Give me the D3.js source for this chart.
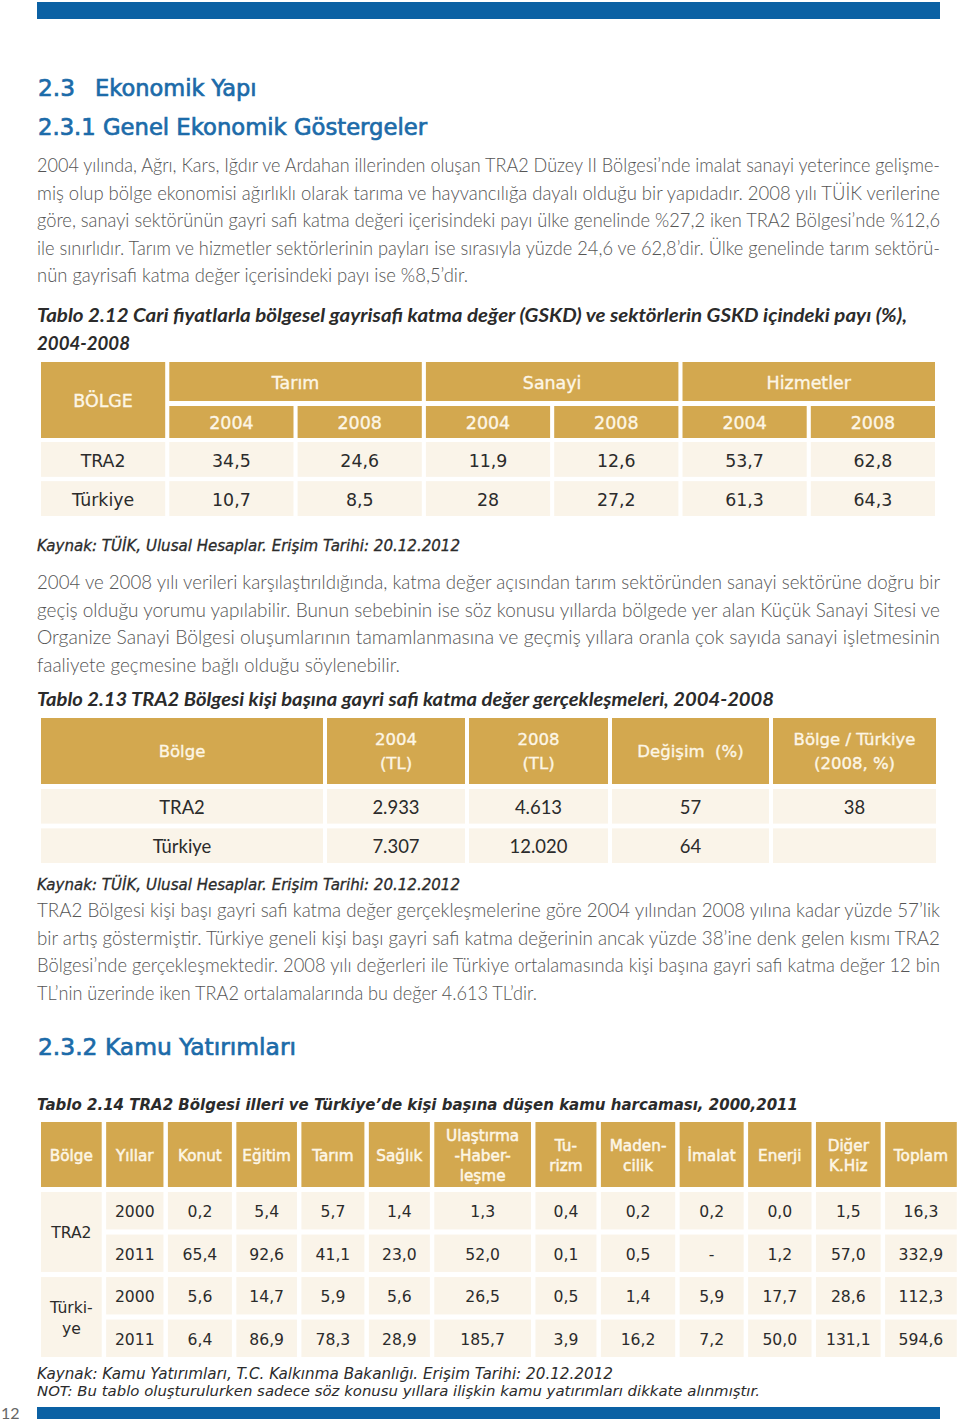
<!DOCTYPE html>
<html><head><meta charset="utf-8">
<script src="https://cdn.jsdelivr.net/npm/d3@7"></script>
<style>html,body{margin:0;padding:0;background:#fff;} svg{display:block;} text{white-space:pre;}</style>
</head><body><svg id="page" width="960" height="1423"></svg>
<script>
// ---------------- DATA ----------------
const headings = ["2.3", "Ekonomik Yapı", "2.3.1 Genel Ekonomik Göstergeler", "2.3.2 Kamu Yatırımları"];
const para1 = [
  "2004 yılında, Ağrı, Kars, Iğdır ve Ardahan illerinden oluşan TRA2 Düzey II Bölgesi’nde imalat sanayi yeterince gelişme-",
  "miş olup bölge ekonomisi ağırlıklı olarak tarıma ve hayvancılığa dayalı olduğu bir yapıdadır. 2008 yılı TÜİK verilerine",
  "göre, sanayi sektörünün gayri safi katma değeri içerisindeki payı ülke genelinde %27,2 iken TRA2 Bölgesi’nde %12,6",
  "ile sınırlıdır. Tarım ve hizmetler sektörlerinin payları ise sırasıyla yüzde 24,6 ve 62,8’dir. Ülke genelinde tarım sektörü-",
  "nün gayrisafi katma değer içerisindeki payı ise %8,5’dir."
];
const para2 = [
  "2004 ve 2008 yılı verileri karşılaştırıldığında, katma değer açısından tarım sektöründen sanayi sektörüne doğru bir",
  "geçiş olduğu yorumu yapılabilir. Bunun sebebinin ise söz konusu yıllarda bölgede yer alan Küçük Sanayi Sitesi ve",
  "Organize Sanayi Bölgesi oluşumlarının tamamlanmasına ve geçmiş yıllara oranla çok sayıda sanayi işletmesinin",
  "faaliyete geçmesine bağlı olduğu söylenebilir."
];
const para3 = [
  "TRA2 Bölgesi kişi başı gayri safi katma değer gerçekleşmelerine göre 2004 yılından 2008 yılına kadar yüzde 57’lik",
  "bir artış göstermiştir. Türkiye geneli kişi başı gayri safi katma değerinin ancak yüzde 38’ine denk gelen kısmı TRA2",
  "Bölgesi’nde gerçekleşmektedir. 2008 yılı değerleri ile Türkiye ortalamasında kişi başına gayri safi katma değer 12 bin",
  "TL’nin üzerinde iken TRA2 ortalamalarında bu değer 4.613 TL’dir."
];
const caption12 = ["Tablo 2.12 Cari fiyatlarla bölgesel gayrisafi katma değer (GSKD) ve sektörlerin GSKD içindeki payı (%),", "2004-2008"];
const t12RegionHeader = "BÖLGE";
const t12Sectors = ["Tarım", "Sanayi", "Hizmetler"];
const t12Years = ["2004", "2008"];
const t12Regions = ["TRA2", "Türkiye"];
const t12TRA2 = [34.5, 24.6, 11.9, 12.6, 53.7, 62.8];
const t12Turkiye = [10.7, 8.5, 28, 27.2, 61.3, 64.3];
const source12 = "Kaynak: TÜİK, Ulusal Hesaplar. Erişim Tarihi: 20.12.2012";

const caption13 = "Tablo 2.13 TRA2 Bölgesi kişi başına gayri safi katma değer gerçekleşmeleri, 2004-2008";
const t13Columns = [["Bölge"], ["2004", "(TL)"], ["2008", "(TL)"], ["Değişim  (%)"], ["Bölge / Türkiye", "(2008, %)"]];
const t13Regions = ["TRA2", "Türkiye"];
const t13TRA2 = [2933, 4613, 57, 38];
const t13Turkiye = [7307, 12020, 64, null];
const source13 = "Kaynak: TÜİK, Ulusal Hesaplar. Erişim Tarihi: 20.12.2012";

const caption14 = "Tablo 2.14 TRA2 Bölgesi illeri ve Türkiye’de kişi başına düşen kamu harcaması, 2000,2011";
const t14Columns = [["Bölge"], ["Yıllar"], ["Konut"], ["Eğitim"], ["Tarım"], ["Sağlık"], ["Ulaştırma", "-Haber-", "leşme"], ["Tu-", "rizm"], ["Maden-", "cilik"], ["İmalat"], ["Enerji"], ["Diğer", "K.Hiz"], ["Toplam"]];
const t14Regions = [["TRA2"], ["Türki-", "ye"]];
const t14Years = ["2000", "2011"];
const t14TRA2_2000 = [0.2, 5.4, 5.7, 1.4, 1.3, 0.4, 0.2, 0.2, 0.0, 1.5, 16.3];
const t14TRA2_2011 = [65.4, 92.6, 41.1, 23.0, 52.0, 0.1, 0.5, null, 1.2, 57.0, 332.9];
const t14Turkiye_2000 = [5.6, 14.7, 5.9, 5.6, 26.5, 0.5, 1.4, 5.9, 17.7, 28.6, 112.3];
const t14Turkiye_2011 = [6.4, 86.9, 78.3, 28.9, 185.7, 3.9, 16.2, 7.2, 50.0, 131.1, 594.6];
const source14 = [
  "Kaynak: Kamu Yatırımları, T.C. Kalkınma Bakanlığı. Erişim Tarihi: 20.12.2012",
  "NOT: Bu tablo oluşturulurken sadece söz konusu yıllara ilişkin kamu yatırımları dikkate alınmıştır."
];
const pageNumber = "12";

// ---------------- STYLE ----------------
const BLUE_BAR = "#0b61a4", BLUE_HEAD = "#1c6ba9", GOLD = "#d3a84f", CREAM = "#faf4e9",
      HEAD_TXT = "#fdf6e6", BODY = "#505050", DARK = "#2b2b2b";
const F_LATO = "Lato, 'Open Sans', sans-serif";
const F_TAB = "'DejaVu Sans', Verdana, sans-serif";

const svg = d3.select("#page");
const loc = d3.formatLocale({decimal: ",", thousands: ".", grouping: [3], currency: ["", ""]});
const f12 = v => String(v).replace(".", ",");
const f13 = v => v == null ? "" : loc.format(",d")(v);
const f14 = v => v == null ? "-" : loc.format(".1f")(v);

function T(sel, s, x, y, o = {}) {
  let parent = sel, tx = x, ty = y;
  if (o.vs) { parent = sel.append("g").attr("transform", `translate(${x},${y}) scale(1,${o.vs})`); tx = 0; ty = 0; }
  const size = o.s || 18;
  const t = parent.append("text").attr("x", tx).attr("y", ty).text(s)
    .attr("font-family", o.f || F_LATO).attr("font-size", size)
    .attr("fill", o.c || BODY).attr("text-anchor", o.a || "start");
  if (o.wt) t.attr("font-weight", o.wt);
  if (o.it) t.attr("font-style", "italic");
  if (o.st) t.attr("stroke", o.c || BODY).attr("stroke-width", o.st);
  const L = t.node().getComputedTextLength();
  const target = o.w ? o.w : (o.sx ? L * o.sx : null);
  if (target) {
    if (L > target) t.attr("font-size", size * target / L * 0.998);
    const L2 = t.node().getComputedTextLength();
    if (o.w && Math.abs(L2 - target) > 0.5) t.attr("textLength", target).attr("lengthAdjust", "spacingAndGlyphs");
  }
  return t;
}
// common font size so that every line's natural width fits its target width
function fitSize(items, o, base) {
  const tmp = svg.append("text").attr("font-family", o.f).attr("font-size", base)
    .attr("font-weight", o.wt || 400).attr("font-style", o.it ? "italic" : "normal");
  let s = base;
  items.forEach(([l, w]) => { tmp.text(l); const L = tmp.node().getComputedTextLength(); s = Math.min(s, base * w / L); });
  tmp.remove();
  return s * 0.995;
}
function rect(sel, x, y, w, h, fill) {
  return sel.append("rect").attr("x", x).attr("y", y).attr("width", w).attr("height", h).attr("fill", fill);
}
function multiline(sel, lines, cx, cy, lh, o) {
  const n = lines.length;
  lines.forEach((l, i) => T(sel, l, cx, cy + (i - (n - 1) / 2) * lh + 0.36 * o.s, o));
}

// ---------------- PAGE FRAME ----------------
rect(svg, 37, 2, 903, 17, BLUE_BAR);
rect(svg, 37, 1407, 903, 12, BLUE_BAR);
T(svg, pageNumber, 1, 1419, {f: F_LATO, s: 16, c: "#666"});

// ---------------- HEADINGS ----------------
const hO = {f: F_TAB, s: 24, c: BLUE_HEAD, st: 0.7};
T(svg, headings[0], 38, 96, Object.assign({w: 37}, hO));
T(svg, headings[1], 95, 96, Object.assign({w: 162}, hO));
T(svg, headings[2], 38, 135, Object.assign({w: 389}, hO));
T(svg, headings[3], 38, 1055, Object.assign({w: 258}, hO));

// ---------------- PARAGRAPHS ----------------
const paras = [[para1, 172, 431], [para2, 589, 363], [para3, 917, 500]];
const bodyO = {f: F_LATO, wt: 300, c: "#555"};
const bodyItems = [];
paras.forEach(([lines, y0, lastW]) => lines.forEach((l, i) => bodyItems.push([l, i === lines.length - 1 ? lastW : 903])));
const bodySize = fitSize(bodyItems, bodyO, 19);
const bodyVs = Math.min(1.2, 19 / bodySize);
paras.forEach(([lines, y0, lastW]) => lines.forEach((l, i) =>
  T(svg, l, 37, y0 + i * 27.6, Object.assign({s: bodySize, vs: bodyVs, w: i === lines.length - 1 ? lastW : 903}, bodyO))));

// ---------------- CAPTIONS / SOURCES ----------------
const capO = {f: F_LATO, wt: 700, it: true, c: DARK};
const capItems = [[caption12[0], 870], [caption12[1], 93], [caption13, 737]];
const capSize = fitSize(capItems, capO, 19);
const capVs = Math.min(1.2, 19 / capSize);
T(svg, caption12[0], 37, 322, Object.assign({s: capSize, vs: capVs, w: 870}, capO));
T(svg, caption12[1], 37, 350, Object.assign({s: capSize, vs: capVs, w: 93}, capO));
T(svg, caption13, 37, 706, Object.assign({s: capSize, vs: capVs, w: 737}, capO));
T(svg, caption14, 37, 1110, {f: F_TAB, s: 18, wt: 700, it: true, c: DARK, w: 761});
const srcO = {f: F_TAB, s: 15, it: true, c: DARK, st: 0.3};
T(svg, source12, 37, 551, Object.assign({w: 423}, srcO));
T(svg, source13, 37, 890, Object.assign({w: 423}, srcO));
T(svg, source14[0], 37, 1379, {f: F_TAB, s: 15, it: true, c: DARK, w: 576});
T(svg, source14[1], 37, 1396, {f: F_TAB, s: 15, it: true, c: DARK, w: 723});

// ---------------- TABLE 2.12 ----------------
{
  const g = svg.append("g");
  const x = d3.scaleBand().domain(d3.range(7)).range([41, 935]).paddingInner(0.032);
  const bw = x.bandwidth();
  const hO2 = {f: F_TAB, s: 19, c: HEAD_TXT, a: "middle", sx: 0.92, st: 0.35};
  rect(g, x(0), 362, bw, 76, GOLD);
  T(g, t12RegionHeader, x(0) + bw / 2, 400 + 0.36 * 19, hO2);
  const sectors = t12Sectors.map((s, i) => ({s, x0: x(1 + 2 * i), x1: x(2 + 2 * i) + bw}));
  g.selectAll("rect.sec").data(sectors).join("rect").attr("class", "sec")
    .attr("x", d => d.x0).attr("y", 362).attr("width", d => d.x1 - d.x0).attr("height", 39).attr("fill", GOLD);
  sectors.forEach(d => T(g, d.s, (d.x0 + d.x1) / 2, 382 + 0.36 * 19, hO2));
  const yrs = d3.range(6).map(i => ({i, y: t12Years[i % 2]}));
  g.selectAll("rect.yr").data(yrs).join("rect").attr("class", "yr")
    .attr("x", d => x(d.i + 1)).attr("y", 406).attr("width", bw).attr("height", 32).attr("fill", GOLD);
  yrs.forEach(d => T(g, d.y, x(d.i + 1) + bw / 2, 422 + 0.36 * 19, hO2));
  const rows = t12Regions.map((r, i) => ({r, vals: i ? t12Turkiye : t12TRA2}));
  const y = d3.scaleBand().domain(t12Regions).range([442, 516]).paddingInner(0.11);
  const dO = {f: F_TAB, s: 20, c: DARK, a: "middle", sx: 0.87};
  rows.forEach(row => {
    const cells = [row.r].concat(row.vals.map(f12));
    g.selectAll(null).data(cells).join("rect")
      .attr("x", (d, i) => x(i)).attr("y", y(row.r)).attr("width", bw).attr("height", y.bandwidth()).attr("fill", CREAM);
    cells.forEach((c, i) => T(g, c, x(i) + bw / 2, y(row.r) + y.bandwidth() / 2 + 0.36 * 20, dO));
  });
}

// ---------------- TABLE 2.13 ----------------
{
  const g = svg.append("g");
  const widths = [282, 138, 139, 157, 163], gap = 4;
  const xs = widths.map((w, i) => 41 + d3.sum(widths.slice(0, i)) + gap * i);
  const hO3 = {f: F_TAB, s: 18, c: HEAD_TXT, a: "middle", sx: 0.92, st: 0.35};
  g.selectAll("rect.h").data(t13Columns).join("rect").attr("class", "h")
    .attr("x", (d, i) => xs[i]).attr("y", 718).attr("width", (d, i) => widths[i]).attr("height", 66).attr("fill", GOLD);
  t13Columns.forEach((c, i) => multiline(g, c, xs[i] + widths[i] / 2, 751, 24, hO3));
  const y = d3.scaleBand().domain(t13Regions).range([789, 863]).paddingInner(0.12);
  const dO = {f: F_LATO, s: 21, c: DARK, a: "middle", sx: 0.88};
  t13Regions.forEach((r, ri) => {
    const cells = [r].concat((ri ? t13Turkiye : t13TRA2).map(f13));
    g.selectAll(null).data(cells).join("rect")
      .attr("x", (d, i) => xs[i]).attr("y", y(r)).attr("width", (d, i) => widths[i]).attr("height", y.bandwidth()).attr("fill", CREAM);
    cells.forEach((c, i) => { if (c) T(g, c, xs[i] + widths[i] / 2, y(r) + y.bandwidth() / 2 + 0.36 * 21, dO); });
  });
}

// ---------------- TABLE 2.14 ----------------
{
  const g = svg.append("g");
  const widths = [60.7, 57.3, 64, 60.6, 63, 61, 96.7, 61, 74.3, 64, 63.4, 64.7, 71.7], gap = 4.45;
  const xs = widths.map((w, i) => 41 + d3.sum(widths.slice(0, i)) + gap * i);
  const hO4 = {f: F_TAB, s: 17, c: HEAD_TXT, a: "middle", sx: 0.9, st: 0.5};
  g.selectAll("rect.h").data(t14Columns).join("rect").attr("class", "h")
    .attr("x", (d, i) => xs[i]).attr("y", 1122).attr("width", (d, i) => widths[i]).attr("height", 65).attr("fill", GOLD);
  t14Columns.forEach((c, i) => multiline(g, c, xs[i] + widths[i] / 2, 1155, 20, hO4));
  const rowKeys = ["TRA2-2000", "TRA2-2011", "Türkiye-2000", "Türkiye-2011"];
  const rowVals = [t14TRA2_2000, t14TRA2_2011, t14Turkiye_2000, t14Turkiye_2011];
  const y = d3.scaleBand().domain(rowKeys).range([1192, 1357]).paddingInner(0.12);
  const bh = y.bandwidth();
  const dO = {f: F_TAB, s: 18, c: DARK, a: "middle", sx: 0.87};
  t14Regions.forEach((lab, ri) => {
    const y0 = y(rowKeys[2 * ri]), y1 = y(rowKeys[2 * ri + 1]) + bh;
    rect(g, xs[0], y0, widths[0], y1 - y0, CREAM);
    multiline(g, lab, xs[0] + widths[0] / 2, (y0 + y1) / 2, 21, dO);
  });
  rowKeys.forEach((k, ri) => {
    const cells = [t14Years[ri % 2]].concat(rowVals[ri].map(f14));
    g.selectAll(null).data(cells).join("rect")
      .attr("x", (d, i) => xs[i + 1]).attr("y", y(k)).attr("width", (d, i) => widths[i + 1]).attr("height", bh).attr("fill", CREAM);
    cells.forEach((c, i) => T(g, c, xs[i + 1] + widths[i + 1] / 2, y(k) + bh / 2 + 0.36 * 18, dO));
  });
}
</script></body></html>
